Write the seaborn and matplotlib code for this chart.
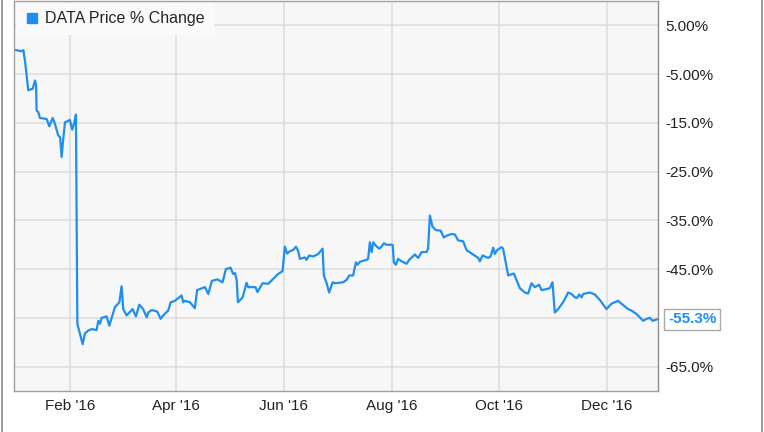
import numpy as np
import pandas as pd
import matplotlib
matplotlib.use('Agg')
import matplotlib.pyplot as plt
from matplotlib.lines import Line2D
import seaborn as sns

# days since 2015-12-31 and price % change
days = [
    0.0, 4.3, 5.3, 6.2, 7.5, 8.1, 10.6, 11.9, 12.5, 12.8,
    13.8, 14.7, 18.5, 20.0, 21.9, 23.2, 25.1, 26.1, 27.0, 27.9,
    28.9, 31.7, 33.0, 34.2, 35.1, 35.9, 37.4, 38.9, 40.2, 42.1,
    44.0, 46.8, 47.8, 48.7, 49.7, 52.5, 54.0, 57.2, 59.7, 61.0,
    61.9, 63.8, 67.2, 69.1, 71.0, 73.2, 75.2, 76.1, 78.0, 81.2,
    83.1, 84.6, 87.4, 88.8, 91.2, 95.0, 95.9, 96.9, 99.7, 102.5,
    103.8, 108.2, 110.1, 112.2, 115.3, 118.2, 120.1, 122.7, 124.2, 125.2,
    126.2, 126.9, 129.6, 131.8, 132.7, 136.9, 138.0, 139.4, 140.9, 144.1,
    146.9, 149.7, 152.2, 153.5, 154.8, 156.4, 158.2, 159.8, 161.1, 162.0,
    164.9, 165.8, 167.3, 169.6, 172.4, 174.9, 175.6, 177.2, 178.6, 180.6,
    181.9, 186.6, 188.5, 190.0, 192.2, 193.8, 194.7, 196.0, 199.8, 200.7,
    201.7, 202.7, 203.6, 205.1, 207.0, 208.3, 209.6, 211.2, 214.6, 215.3,
    216.4, 217.7, 219.7, 222.5, 224.0, 227.2, 229.1, 231.0, 233.8, 234.7,
    235.7, 237.2, 239.1, 241.8, 243.6, 245.5, 248.0, 249.9, 251.7, 254.6,
    256.5, 260.2, 263.1, 264.0, 265.6, 268.7, 270.1, 271.6, 272.5, 273.8,
    276.3, 277.2, 280.1, 283.3, 286.7, 289.5, 291.4, 293.3, 295.2, 297.6,
    299.0, 301.8, 303.7, 305.2, 306.5, 308.4, 311.2, 314.1, 316.0, 317.9,
    319.2, 320.3, 321.7, 322.6, 326.4, 329.2, 332.0, 335.8, 338.6, 342.4,
    344.3, 348.1, 350.0, 352.8, 356.6, 358.5, 360.4, 361.9, 364.5,
]
pct_change = [
    0.0, -0.3, -0.1, -2.2, -6.3, -8.3, -8.0, -6.3, -7.3, -12.5,
    -12.8, -14.0, -14.2, -15.7, -14.0, -15.2, -17.6, -17.9, -22.0, -18.3,
    -14.9, -14.4, -16.4, -14.9, -13.3, -56.2, -58.3, -60.4, -58.2, -57.6,
    -57.3, -57.5, -55.6, -56.2, -55.0, -54.7, -56.6, -52.8, -51.8, -48.5,
    -53.2, -54.5, -53.2, -54.7, -52.3, -53.2, -54.9, -53.9, -53.4, -53.7,
    -55.2, -54.5, -53.5, -51.8, -51.5, -50.4, -51.8, -51.5, -51.8, -53.0,
    -49.3, -48.7, -50.1, -47.4, -47.1, -47.7, -45.0, -44.7, -46.0, -45.8,
    -47.2, -51.8, -50.8, -47.8, -48.7, -48.7, -49.7, -48.8, -47.9, -48.0,
    -47.0, -46.0, -45.4, -40.4, -41.8, -41.3, -41.1, -40.4, -41.3, -42.9,
    -42.6, -43.1, -42.2, -42.4, -41.9, -40.8, -46.3, -47.9, -49.8, -47.7,
    -47.9, -47.7, -47.2, -46.3, -46.3, -43.6, -44.1, -43.5, -43.1, -42.9,
    -39.5, -41.5, -39.5, -40.2, -40.8, -40.4, -39.7, -40.0, -40.0, -43.6,
    -44.1, -42.9, -43.4, -43.9, -43.1, -42.0, -42.7, -41.5, -41.5, -40.8,
    -34.0, -36.3, -37.0, -37.1, -38.5, -38.1, -37.8, -37.9, -39.1, -39.3,
    -41.1, -42.0, -42.7, -43.4, -42.2, -42.7, -42.4, -40.6, -41.9, -41.1,
    -40.5, -40.8, -46.3, -45.9, -48.9, -49.8, -50.0, -47.9, -48.7, -48.2,
    -49.3, -49.1, -48.9, -47.7, -53.9, -53.2, -51.8, -49.8, -50.1, -50.8,
    -50.9, -50.2, -50.8, -50.1, -49.8, -50.2, -51.3, -53.2, -52.1, -51.5,
    -52.1, -53.2, -53.5, -54.2, -55.6, -55.2, -55.0, -55.6, -55.3,
]
assert len(days) == len(pct_change)

x_ticks = ['2016-02-01', '2016-04-01', '2016-06-01', '2016-08-01', '2016-10-01', '2016-12-01']
x_labels = ["Feb '16", "Apr '16", "Jun '16", "Aug '16", "Oct '16", "Dec '16"]
y_ticks = [5, -5, -15, -25, -35, -45, -55, -65]
# the -55 label is covered by the last-value tag in the original
y_labels = ['5.00%', '-5.00%', '-15.0%', '-25.0%', '-35.0%', '-45.0%', '', '-65.0%']
series_name = 'DATA Price % Change'
last_label = '-55.3%'

start = pd.Timestamp('2015-12-31')
df = pd.DataFrame({
    'date': start + pd.to_timedelta(days, unit='D'),
    'pct': pct_change,
})

BLUE = '#1e8ff0'

sns.set_theme(style='whitegrid')
plt.rcParams['font.family'] = ['Liberation Sans', 'DejaVu Sans']

fig = plt.figure(figsize=(7.64, 4.32), dpi=100)
ax = fig.add_axes([14 / 764, 41 / 432, 644 / 764, 390 / 432])
ax.set_facecolor('#f7f7f7')

sns.lineplot(data=df, x='date', y='pct', ax=ax, color=BLUE, linewidth=1.6, label=series_name)

ax.set_xlim(start, start + pd.Timedelta(days=365))
ax.set_ylim(-70, 10)

ax.set_xticks(pd.to_datetime(x_ticks))
ax.set_xticklabels(x_labels, fontsize=11, color='#222222')
ax.yaxis.tick_right()
ax.set_yticks(y_ticks)
ax.set_yticklabels(y_labels, fontsize=11, color='#222222')
ax.tick_params(axis='both', length=0)
ax.tick_params(axis='x', pad=6)
ax.tick_params(axis='y', pad=5)
ax.set_xlabel('')
ax.set_ylabel('')

ax.grid(True, color='#dcdcdc', linewidth=1.1)
for side, sp in ax.spines.items():
    sp.set_visible(True)
    sp.set_color('#a0a0a0')
    sp.set_linewidth(1.0)
ax.spines['right'].set_color('#8c8c8c')

handle = Line2D([], [], marker='s', linestyle='none', color=BLUE, markersize=7)
leg = ax.legend([handle], [series_name], loc='upper left', bbox_to_anchor=(0, 1),
                borderaxespad=0.1, frameon=True, fancybox=False, framealpha=1,
                facecolor='#fafafa', edgecolor='none', fontsize=11.5,
                handletextpad=0.3, borderpad=0.55, handlelength=1.0)
leg.get_frame().set_linewidth(0)

ax.annotate(last_label, xy=(df['date'].iloc[-1], df['pct'].iloc[-1]),
            xytext=(8, 0), textcoords='offset points', ha='left', va='center',
            fontsize=11, fontweight='bold', color=BLUE, annotation_clip=False,
            bbox=dict(boxstyle='square,pad=0.25', fc='white', ec='#aaaaaa', lw=1))

# thin outer frame at the left and right edges
for xp in (1.5 / 764, 761.5 / 764):
    fig.add_artist(Line2D([xp, xp], [0, 1], transform=fig.transFigure,
                          color='#8a8a8a', linewidth=1.2))

fig.savefig('out.png', dpi=100)
